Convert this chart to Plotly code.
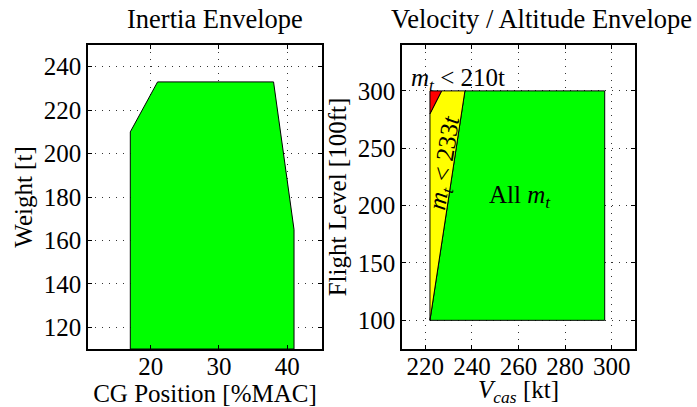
import plotly.graph_objects as go

# Inertia envelope (CG position [%MAC] vs weight [t])
cg_pos = [17, 17, 21, 38, 41, 41, 17]
weight = [110, 210, 233, 233, 165, 110, 110]

# Velocity / altitude envelope
green_v = [222, 297, 297, 237, 222]
green_fl = [100, 100, 300, 300, 100]
yellow_v = [222, 237, 227, 222, 222]
yellow_fl = [100, 300, 300, 280, 100]
red_v = [222, 227, 222, 222]
red_fl = [280, 300, 300, 280]

FONT = "Liberation Serif"
TS = 25
fig = go.Figure()

fig.add_trace(go.Scatter(x=cg_pos, y=weight, fill="toself", fillcolor="#00ff00",
                         mode="lines", line=dict(color="black", width=1),
                         xaxis="x", yaxis="y", showlegend=False, hoverinfo="skip"))
fig.add_trace(go.Scatter(x=green_v, y=green_fl, fill="toself", fillcolor="#00ff00",
                         mode="lines", line=dict(color="black", width=1),
                         xaxis="x2", yaxis="y2", showlegend=False, hoverinfo="skip"))
fig.add_trace(go.Scatter(x=yellow_v, y=yellow_fl, fill="toself", fillcolor="#ffff00",
                         mode="lines", line=dict(color="black", width=1),
                         xaxis="x2", yaxis="y2", showlegend=False, hoverinfo="skip"))
fig.add_trace(go.Scatter(x=red_v, y=red_fl, fill="toself", fillcolor="#ff0000",
                         mode="lines", line=dict(color="black", width=1),
                         xaxis="x2", yaxis="y2", showlegend=False, hoverinfo="skip"))

ax_common = dict(showline=True, linecolor="black", linewidth=1.5, mirror="allticks",
                 ticks="inside", ticklen=4, tickcolor="black", automargin=False,
                 showgrid=True, gridcolor="#333333", griddash="1px,6px", gridwidth=1,
                 zeroline=False, tickfont=dict(family=FONT, size=TS, color="black"))

fig.update_layout(
    width=697, height=407,
    margin=dict(l=0, r=0, t=0, b=0),
    paper_bgcolor="white", plot_bgcolor="white",
    font=dict(family=FONT, color="black"),
    xaxis=dict(domain=[88 / 697, 322 / 697], range=[10.8, 45.1], tickvals=[20, 30, 40],
               ticklabelstandoff=-6,
               title=dict(text="CG Position [%MAC]", font=dict(size=TS), standoff=0),
               anchor="y", **ax_common),
    yaxis=dict(domain=[1 - 349 / 407, 1 - 45 / 407], range=[110, 250],
               tickvals=[120, 140, 160, 180, 200, 220, 240],
               title=dict(text="Weight [t]", font=dict(size=TS), standoff=4),
               anchor="x", **ax_common),
    xaxis2=dict(domain=[402 / 697, 635 / 697], range=[210, 310], tickvals=[220, 240, 260, 280, 300],
                ticklabelstandoff=-6,
                title=dict(text="<i>V<sub>cas</sub></i> [kt]", font=dict(size=TS), standoff=3),
                anchor="y2", **ax_common),
    yaxis2=dict(domain=[1 - 349 / 407, 1 - 45 / 407], range=[75, 340],
                tickvals=[100, 150, 200, 250, 300],
                title=dict(text="Flight Level [100ft]", font=dict(size=TS), standoff=4),
                anchor="x2", **ax_common),
    annotations=[
        dict(text="Inertia Envelope", x=215 / 697, y=1 - 19 / 407, xref="paper", yref="paper",
             showarrow=False, font=dict(size=26.5), xanchor="center", yanchor="middle"),
        dict(text="Velocity / Altitude Envelope", x=541 / 697, y=1 - 19 / 407, xref="paper", yref="paper",
             showarrow=False, font=dict(size=26.5), xanchor="center", yanchor="middle"),
        dict(text="<i>m<sub>t</sub></i> < 210t", x=234, y=310, xref="x2", yref="y2",
             showarrow=False, font=dict(size=TS)),
        dict(text="<i>m<sub>t</sub></i> < 233<i>t</i>", x=228.6, y=237, xref="x2", yref="y2",
             showarrow=False, font=dict(size=TS), textangle=-81),
        dict(text="All <i>m<sub>t</sub></i>", x=260.5, y=208, xref="x2", yref="y2",
             showarrow=False, font=dict(size=TS)),
    ],
)

fig.write_html("out.html", config={"displayModeBar": False},
               post_script="document.body.style.margin='0';")
